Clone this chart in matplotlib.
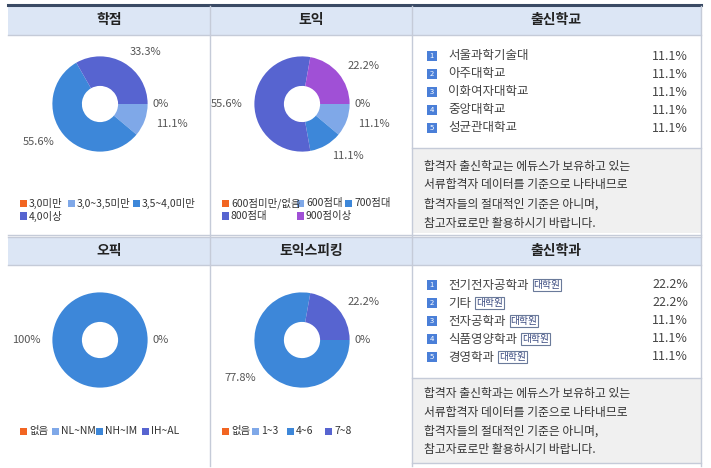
import matplotlib.pyplot as plt
from matplotlib.patches import Rectangle
from matplotlib.lines import Line2D

plt.rcParams['font.family'] = 'Noto Sans CJK KR'

W, H = 711, 468

# data
gpa_labels = ['3,0미만', '3,0~3,5미만', '3,5~4,0미만', '4,0이상']
gpa_values = [0, 11.1, 55.6, 33.3]
toeic_labels = ['600점미만/없음', '600점대', '700점대', '800점대', '900점이상']
toeic_values = [0, 11.1, 11.1, 55.6, 22.2]
opic_labels = ['없음', 'NL~NM', 'NH~IM', 'IH~AL']
opic_values = [0, 0, 100, 0]
speaking_labels = ['없음', '1~3', '4~6', '7~8']
speaking_values = [0, 0, 77.8, 22.2]

school_names = ['서울과학기술대', '아주대학교', '이화여자대학교', '중앙대학교', '성균관대학교']
school_pct = ['11.1%', '11.1%', '11.1%', '11.1%', '11.1%']
major_names = ['전기전자공학과', '기타', '전자공학과', '식품영양학과', '경영학과']
major_pct = ['22.2%', '22.2%', '11.1%', '11.1%', '11.1%']

school_note = ['합격자 출신학교는 에듀스가 보유하고 있는', '서류합격자 데이터를 기준으로 나타내므로',
               '합격자들의 절대적인 기준은 아니며,', '참고자료로만 활용하시기 바랍니다.']
major_note = ['합격자 출신학과는 에듀스가 보유하고 있는', '서류합격자 데이터를 기준으로 나타내므로',
              '합격자들의 절대적인 기준은 아니며,', '참고자료로만 활용하시기 바랍니다.']

colors4 = ['#f26522', '#7fa8e8', '#3d87d9', '#5764d0']
colors5 = ['#f26522', '#7fa8e8', '#3d87d9', '#5764d0', '#a050d6']

fig = plt.figure(figsize=(W / 100, H / 100), dpi=100)


def fx(x):
    return x / W


def fy(y):
    return 1 - y / H


def rect(x0, y0, x1, y1, fc, ec='none', lw=0):
    fig.add_artist(Rectangle((fx(x0), fy(y1)), fx(x1) - fx(x0), fy(y0) - fy(y1),
                             facecolor=fc, edgecolor=ec, linewidth=lw, transform=fig.transFigure))


def line(x0, y0, x1, y1, c='#c5cbd8', lw=1.0):
    fig.add_artist(Line2D([fx(x0), fx(x1)], [fy(y0), fy(y1)], color=c, lw=lw, transform=fig.transFigure))


def text(x, y, s, **kw):
    fig.text(fx(x), fy(y), s, **kw)


# table background
rect(8, 36, 412, 235, 'white')
rect(8, 265, 412, 466, 'white')
rect(412, 36, 701, 148, 'white')
rect(412, 148, 701, 233, '#f0f0f0')
rect(412, 265, 701, 378, 'white')
rect(412, 378, 701, 463, '#f0f0f0')
rect(8, 6, 701, 35, '#dce6f5')
rect(8, 237, 701, 265, '#dce6f5')

line(8, 5, 701, 5, c='#3a4a64', lw=2.2)
for yy in [35, 235, 237, 265]:
    line(8, yy, 701, yy)
line(412, 148, 701, 148)
line(412, 378, 701, 378)
line(412, 463, 701, 463)
for xx in [210, 412, 701]:
    line(xx, 6, xx, 466)

for x, s in [(109, '학점'), (311, '토익'), (556, '출신학교')]:
    text(x, 20, s, ha='center', va='center', fontsize=10, fontweight='bold', color='#222222')
for x, s in [(109, '오픽'), (311, '토익스피킹'), (556, '출신학과')]:
    text(x, 251, s, ha='center', va='center', fontsize=10, fontweight='bold', color='#222222')


def donut(cx, cy, values, colors):
    r = 50
    ax = fig.add_axes([fx(cx - r), fy(cy + r), fx(2 * r), (2 * r) / H])
    ax.set_zorder(5)
    ax.patch.set_visible(False)
    wedges, texts = ax.pie(values, colors=colors, startangle=0, counterclock=False,
                           wedgeprops=dict(width=0.62, linewidth=0),
                           labels=['%g%%' % v for v in values], labeldistance=1.25,
                           textprops=dict(fontsize=8, color='#555555'))
    seen_zero = False
    for t, v in zip(texts, values):
        t.set_clip_on(False)
        if v == 0:
            if seen_zero:
                t.set_visible(False)
            seen_zero = True
            t.set_position((1.28, 0.0))
            t.set_ha('center')
    ax.set_aspect('equal')
    ax.set_xlim(-1.05, 1.05)
    ax.set_ylim(-1.05, 1.05)
    ax.axis('off')


donut(100, 104, gpa_values, colors4)
donut(302, 104, toeic_values, colors5)
donut(100, 340, opic_values, colors4)
donut(302, 340, speaking_values, colors4)


def legend(x0, y0, labels, colors, per_row, widths):
    for i, (lab, c) in enumerate(zip(labels, colors)):
        row, col = divmod(i, per_row)
        x = x0 + sum(widths[:col])
        y = y0 + row * 13
        rect(x, y - 3.5, x + 7, y + 3.5, c)
        text(x + 9, y, lab, ha='left', va='center', fontsize=7.5, color='#333333')


legend(20, 203, gpa_labels, colors4, 3, [48, 65, 70])
legend(222, 203, toeic_labels, colors5, 3, [75, 48, 60])
legend(20, 431, opic_labels, colors4, 4, [32, 44, 46, 40])
legend(222, 431, speaking_labels, colors4, 4, [30, 35, 38, 40])


def ranklist(y0, names, pcts, tag):
    for i, (n, p) in enumerate(zip(names, pcts)):
        y = y0 + i * 18
        rect(427, y - 5, 437, y + 5, '#4a7fd8')
        text(432, y, str(i + 1), ha='center', va='center', fontsize=5.5, color='white')
        t = fig.text(fx(448), fy(y), n, ha='left', va='center', fontsize=9, color='#444444')
        if tag:
            fig.canvas.draw()
            bb = t.get_window_extent()
            text(bb.x1 + 5, y, '대학원', ha='left', va='center', fontsize=7, color='#3a4a80',
                 bbox=dict(boxstyle='square,pad=0.1', fc='white', ec='#6a7a9a', lw=0.8))
        text(688, y, p, ha='right', va='center', fontsize=9, color='#444444')


ranklist(56, school_names, school_pct, False)
ranklist(285, major_names, major_pct, True)

for i, s in enumerate(school_note):
    text(424, 166 + i * 19, s, ha='left', va='center', fontsize=8.5, color='#333333')
for i, s in enumerate(major_note):
    text(424, 394 + i * 18.5, s, ha='left', va='center', fontsize=8.5, color='#333333')

fig.savefig('out.png', dpi=100)
